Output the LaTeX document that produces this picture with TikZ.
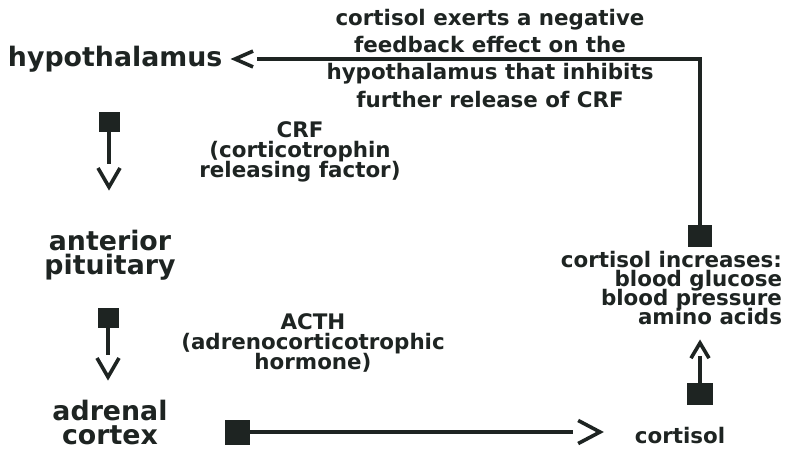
\documentclass[tikz,border=0pt]{standalone}
\usepackage{fontspec}
\setmainfont{DejaVu Sans}
\lineskiplimit=-100pt
\definecolor{ink}{RGB}{30,36,34}
\begin{document}
\begin{tikzpicture}[x=0.5pt,y=-0.5pt,
  big/.style={font=\fontsize{13.4}{12}\selectfont\bfseries, text=ink, inner sep=0pt, outer sep=0pt, align=center},
  small/.style={font=\fontsize{10.7}{9.9}\selectfont\bfseries, text=ink, inner sep=0pt, outer sep=0pt, align=center},
  sq/.style={fill=ink, draw=none, minimum width=10.5pt, minimum height=10pt, inner sep=0pt, outer sep=0pt},
  conn/.style={draw=ink, line width=1.6pt, line join=miter},
  chev/.pic={\draw[ink, line width=1.8pt, line cap=butt, line join=miter] (-19,-11) -- (0,0) -- (-19,11);}
]
\useasboundingbox[fill=white] (0,0) rectangle (785,449);

% texts
\node[big, anchor=base west] (hyp) at (8,67) {hypothalamus};
\node[big, anchor=north] (ant) at (110,230) {anterior\\pituitary};
\node[big, anchor=north] (adr) at (110,400) {adrenal\\cortex};
\node[small, font=\fontsize{10.7}{13.65}\selectfont\bfseries, anchor=north] (fb) at (490,9)
  {cortisol exerts a negative\\feedback effect on the\\hypothalamus that inhibits\\further release of CRF};
\node[small, anchor=north] (crf) at (300,122) {CRF\\(corticotrophin\\releasing factor)};
\node[small, anchor=north] (acth) at (313,314) {ACTH\\(adrenocorticotrophic\\hormone)};
\node[small, font=\fontsize{10.7}{9.6}\selectfont\bfseries, anchor=north east, align=right] (inc) at (782,251)
  {cortisol increases:\\blood glucose\\blood pressure\\amino acids};
\node[small, anchor=base] (cort) at (680,443) {cortisol};

% squares
\node[sq] (s1) at (109,122) {};
\node[sq] (s2) at (108,318) {};
\node[sq, minimum width=12.5pt, minimum height=12.5pt] (s3) at (237,432) {};
\node[sq, minimum width=12pt, minimum height=11pt] (s4) at (700,236) {};
\node[sq, minimum width=13pt, minimum height=11pt] (s5) at (700,394) {};

% connector ends and tips
\coordinate (e1) at (109,164); \coordinate (t1) at (109,187);
\coordinate (e2) at (108,355); \coordinate (t2) at (108,377);
\coordinate (e3) at (573,432); \coordinate (t3) at (600,432);
\coordinate (e4) at (257,59);  \coordinate (t4) at (235,59);
\coordinate (e5) at (700,356); \coordinate (t5) at (700,343);

\draw[conn] (s1.south) -- (e1);
\pic[rotate=-90] at (t1) {chev};
\draw[conn] (s2.south) -- (e2);
\pic[rotate=-90] at (t2) {chev};
\draw[conn] (s3.east) -- (e3);
\pic[xscale=1.15, yscale=1.05] at (t3) {chev};
\draw[conn] (s4.north) |- (e4);
\pic[rotate=180, xscale=0.95, yscale=0.72] at (t4) {chev};
\draw[conn] (s5.north) -- (e5);
\pic[rotate=90, xscale=0.8, yscale=0.82] at (t5) {chev};
\end{tikzpicture}
\end{document}
